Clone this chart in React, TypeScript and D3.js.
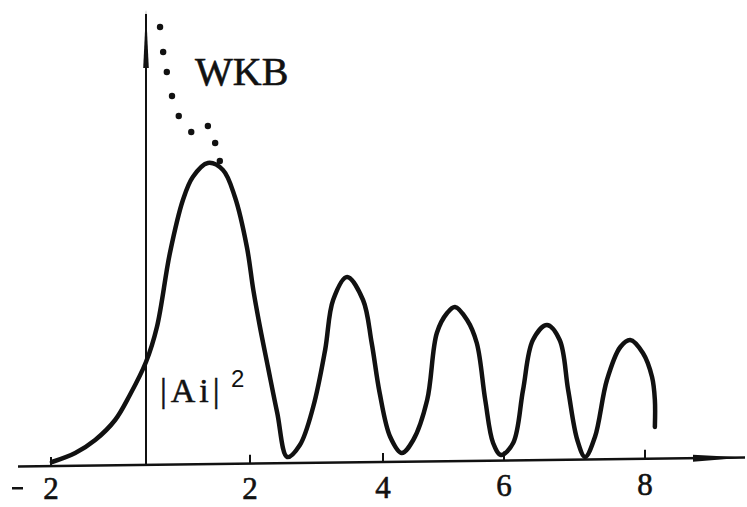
import React from 'react';
import * as d3 from 'd3';

// |Ai|^2 curve
const curveX = [
  -1.98, -1.49, -1.07, -0.65, -0.34, 0.0, 0.21, 0.46, 0.71, 0.9, 1.19, 1.48, 1.71, 1.94,
  2.05, 2.15, 2.27, 2.41, 2.56, 2.75, 2.95, 3.13, 3.25, 3.46, 3.7, 3.83, 3.95,
  4.12, 4.31, 4.5, 4.73, 4.89, 5.06, 5.19, 5.39, 5.55, 5.69, 5.82, 5.95,
  6.13, 6.27, 6.41, 6.61, 6.79, 6.91, 7.04, 7.15, 7.29, 7.46, 7.65, 7.79, 7.97,
  8.1, 8.14, 8.14,
];
const curveY = [
  0.0, 0.009, 0.022, 0.042, 0.067, 0.1, 0.135, 0.209, 0.262, 0.285, 0.299, 0.292, 0.265, 0.215,
  0.172, 0.135, 0.095, 0.049, 0.005, 0.017, 0.055, 0.112, 0.162, 0.185, 0.162, 0.119, 0.069,
  0.025, 0.009, 0.022, 0.062, 0.129, 0.149, 0.155, 0.142, 0.119, 0.062, 0.019, 0.007,
  0.019, 0.072, 0.122, 0.137, 0.122, 0.072, 0.022, 0.005, 0.025, 0.082, 0.115, 0.122, 0.109,
  0.085, 0.062, 0.035,
];

// WKB dots
const wkbX = [0.27, 0.33, 0.4, 0.5, 0.63, 0.87, 1.19, 1.33, 1.42];
const wkbY = [0.435, 0.41, 0.39, 0.366, 0.346, 0.33, 0.336, 0.319, 0.301];

const tickValues = [-2, 2, 4, 6, 8];
const tickPositions = [-2, 0, 2, 4, 6, 8];

const W = 747;
const H = 507;

export default function App() {
  // the scan's axis is not evenly spaced, so use a piecewise scale
  const xScale = d3.scaleLinear()
    .domain(tickPositions)
    .range([51, 146, 250, 383, 504, 645]);
  const yScale = d3.scaleLinear().domain([0, 0.3]).range([462, 162]);

  const points: [number, number][] = curveX.map((x, i) => [x, curveY[i]]);
  const line = d3.line<[number, number]>()
    .x((d) => xScale(d[0]))
    .y((d) => yScale(d[1]))
    .curve(d3.curveCatmullRom.alpha(0.5));

  const axisLeft = 18;
  const axisRight = 745;
  const y0 = yScale(0);
  // scan is a little tilted
  const tilt = (px: number) => y0 + 4.5 - (9 * (px - axisLeft)) / (axisRight - axisLeft);
  const x0 = xScale(0);
  const ink = '#111';

  return (
    <svg
      width={W}
      height={H}
      style={{ position: 'absolute', left: 0, top: 0, background: '#fff' }}
    >
      {/* x axis */}
      <line
        x1={axisLeft}
        y1={tilt(axisLeft)}
        x2={axisRight}
        y2={tilt(axisRight)}
        stroke={ink}
        strokeWidth={2.5}
      />
      <polygon
        points={`${693},${tilt(693) - 3.5} ${axisRight},${tilt(axisRight)} ${693},${tilt(693) + 3.5}`}
        fill={ink}
      />
      {/* y axis */}
      <line x1={x0} y1={tilt(x0)} x2={x0} y2={14} stroke={ink} strokeWidth={2} />
      <polygon points={`${x0},10 ${x0 + 2.8},68 ${x0 - 2.8},68`} fill={ink} />

      {tickValues.map((t) => {
        const px = xScale(t);
        const ty = tilt(px);
        const ly = Math.min(ty + 36, 499);
        return (
          <g key={t}>
            <line x1={px} y1={ty} x2={px} y2={ty - 9} stroke={ink} strokeWidth={2} />
            <text
              x={px}
              y={ly}
              textAnchor="middle"
              fontFamily="Liberation Serif"
              fontSize={31}
              fill={ink}
              stroke={ink}
              strokeWidth={0.6}
            >
              {Math.abs(t)}
            </text>
            {t < 0 && (
              <rect x={px - 39} y={ly - 12} width={11} height={2.5} fill={ink} />
            )}
          </g>
        );
      })}

      <path d={line(points) || ''} fill="none" stroke={ink} strokeWidth={4.5} strokeLinecap="round" />

      {wkbX.map((x, i) => (
        <circle key={i} cx={xScale(x)} cy={yScale(wkbY[i])} r={3.2} fill={ink} />
      ))}

      <text x={195} y={85} fontFamily="Liberation Serif" fontSize={40} fill={ink} stroke={ink} strokeWidth={0.6}>
        WKB
      </text>
      <text x={160} y={402} fontFamily="Liberation Serif" fontSize={34} fill={ink} stroke={ink} strokeWidth={0.5} letterSpacing={4}>
        |Ai|
      </text>
      <text x={231} y={387} fontFamily="Liberation Sans" fontSize={24} fill={ink}>
        2
      </text>
    </svg>
  );
}
